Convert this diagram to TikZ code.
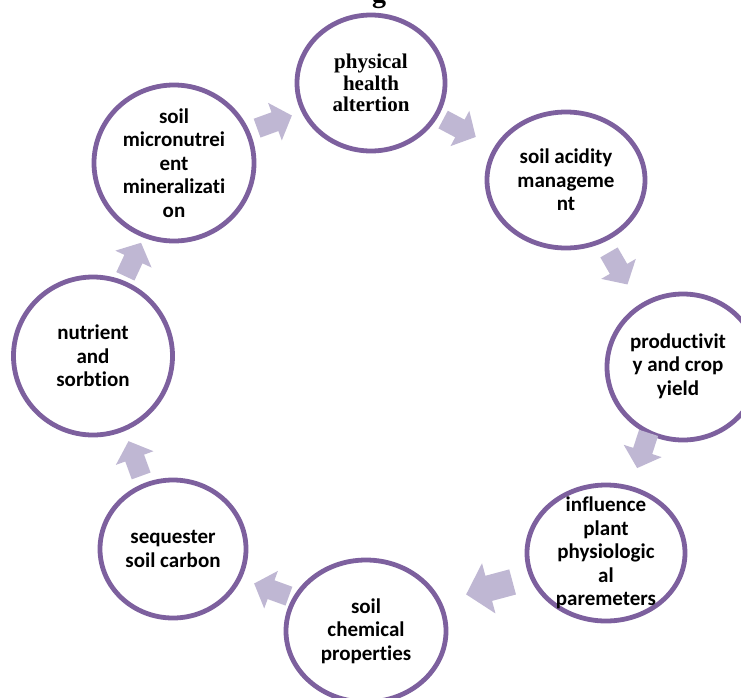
\documentclass[tikz,border=0pt]{standalone}
\usepackage{fontspec}
\setmainfont{Carlito}[Ligatures=NoCommon]
\newfontfamily\titleserif{Liberation Serif}
\usetikzlibrary{shapes.geometric}

\definecolor{ringpurple}{RGB}{125,96,158}
\definecolor{arrowlilac}{RGB}{191,183,211}

\tikzset{
  ring/.style={ellipse, draw=ringpurple, line width=4.8pt, fill=white, inner sep=0pt},
  ringtext/.style={align=center, inner sep=0pt, font=\bfseries\fontsize{21}{23.5}\selectfont},
  serifringtext/.style={align=center, inner sep=0pt, font=\titleserif\bfseries\fontsize{21}{21.5}\selectfont},
  cyclearrow/.pic={
    \fill[arrowlilac] (-18,-10) -- (1,-10) -- (1,-20) -- (19,0) -- (1,20) -- (1,10) -- (-18,10) -- cycle;
  }
}

\begin{document}
\begin{tikzpicture}[x=1pt,y=-1pt]
  \useasboundingbox (0,0) rectangle (741,697);

  % descender of the heading above the cycle
  \node[font=\titleserif\bfseries\fontsize{28}{30}\selectfont, anchor=base, inner sep=0pt] (heading) at (379,2) {g};

  % stages of the cycle
  \node[ring, minimum width=148, minimum height=136] (phys) at (371,83) {};
  \node[ring, minimum width=158, minimum height=136] (acid) at (566,180) {};
  \node[ring, minimum width=152, minimum height=146] (prod) at (683,367) {};
  \node[ring, minimum width=158, minimum height=136] (infl) at (606,553) {};
  \node[ring, minimum width=160, minimum height=142] (chem) at (366,631) {};
  \node[ring, minimum width=146, minimum height=138] (seq) at (173,549) {};
  \node[ring, minimum width=159, minimum height=158] (nutr) at (93,356) {};
  \node[ring, minimum width=160, minimum height=156] (micro) at (174,163) {};

  \node[serifringtext] (physT) at (phys) {physical\\health\\altertion};
  \node[ringtext] (acidT) at (acid) {soil acidity\\manageme\\nt};
  \node[ringtext] (prodT) at (678,366) {productivit\\y and crop\\yield};
  \node[ringtext] (inflT) at (infl) {influence\\plant\\physiologic\\al\\paremeters};
  \node[ringtext] (chemT) at (chem) {soil\\chemical\\properties};
  \node[ringtext] (seqT) at (seq) {sequester\\soil carbon};
  \node[ringtext] (nutrT) at (nutr) {nutrient\\and\\sorbtion};
  \node[ringtext] (microT) at (micro) {soil\\micronutrei\\ent\\mineralizati\\on};

  % block arrows running clockwise between the stages
  \pic[rotate=20] (a1) at (274,122) {cyclearrow};
  \pic[rotate=-28] (a2) at (459,128) {cyclearrow};
  \pic[rotate=-60] (a3) at (618,268) {cyclearrow};
  \pic[rotate=-108] (a4) at (643,450) {cyclearrow};
  \pic[rotate=-165, scale=1.3] (a5) at (490,588) {cyclearrow};
  \pic[rotate=160] (a6) at (272,590) {cyclearrow};
  \pic[rotate=110] (a7) at (135,459) {cyclearrow};
  \pic[rotate=65] (a8) at (133,260) {cyclearrow};
\end{tikzpicture}
\end{document}
